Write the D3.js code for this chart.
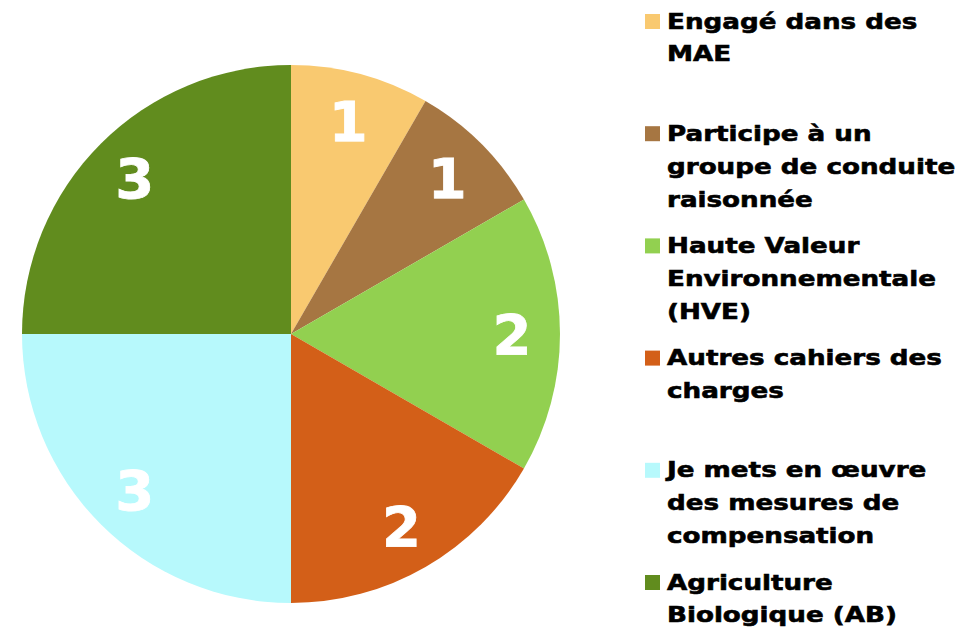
<!DOCTYPE html>
<html>
<head>
<meta charset="utf-8">
<script src="https://cdn.jsdelivr.net/npm/d3@7"></script>
<style>
  html, body { margin: 0; padding: 0; background: #fff; }
  svg { display: block; }
  text { font-family: "DejaVu Sans", Verdana, sans-serif; font-weight: bold; }
</style>
</head>
<body>
<svg id="chart" width="971" height="630"></svg>
<script>
const categories = [
  "Engagé dans des MAE",
  "Participe à un groupe de conduite raisonnée",
  "Haute Valeur Environnementale (HVE)",
  "Autres cahiers des charges",
  "Je mets en œuvre des mesures de compensation",
  "Agriculture Biologique (AB)"
];
const legendLines = [
  ["Engagé dans des", "MAE"],
  ["Participe à un", "groupe de conduite", "raisonnée"],
  ["Haute Valeur", "Environnementale", "(HVE)"],
  ["Autres cahiers des", "charges"],
  ["Je mets en œuvre", "des mesures de", "compensation"],
  ["Agriculture", "Biologique (AB)"]
];
const values = [1, 1, 2, 2, 3, 3];
const colors = ["#F9C970", "#A67642", "#92D050", "#D35F18", "#B7F9FC", "#618C1E"];

const svg = d3.select("#chart");
const cx = 291, cy = 334, R = 269, labelR = 221;

const data = categories.map((c, i) => ({ name: c, value: values[i], color: colors[i], lines: legendLines[i] }));

const pie = d3.pie().value(d => d.value).sort(null);
const arc = d3.arc().innerRadius(0).outerRadius(R);
const labelArc = d3.arc().innerRadius(labelR).outerRadius(labelR);

const g = svg.append("g").attr("transform", `translate(${cx},${cy})`);
const arcs = pie(data);

g.selectAll("path").data(arcs).join("path")
  .attr("d", arc)
  .attr("fill", d => d.data.color);

g.selectAll("text.lbl").data(arcs).join("text")
  .attr("class", "lbl")
  .attr("transform", d => `translate(${labelArc.centroid(d)})`)
  .attr("text-anchor", "middle")
  .attr("dy", "0.36em")
  .attr("font-size", 56)
  .attr("fill", "#fff")
  .attr("stroke", "#fff")
  .attr("stroke-width", 0.8)
  .text(d => d.data.value);

// Legend
const legY = d3.scalePoint().domain(d3.range(data.length)).range([21.5, 582.5]);
const leg = svg.append("g");
const items = leg.selectAll("g").data(data).join("g")
  .attr("transform", (d, i) => `translate(645,${legY(i)})`);
items.append("rect")
  .attr("x", 0).attr("y", -7.5).attr("width", 15).attr("height", 15)
  .attr("fill", d => d.color);
items.append("text")
  .attr("transform", "translate(22,7) scale(1.19,1)")
  .attr("font-size", 22)
  .attr("fill", "#000")
  .attr("stroke", "#000")
  .attr("stroke-width", 0.6)
  .selectAll("tspan").data(d => d.lines).join("tspan")
  .attr("x", 0)
  .attr("dy", (d, i) => i === 0 ? 0 : 33)
  .text(d => d);
</script>
</body>
</html>
